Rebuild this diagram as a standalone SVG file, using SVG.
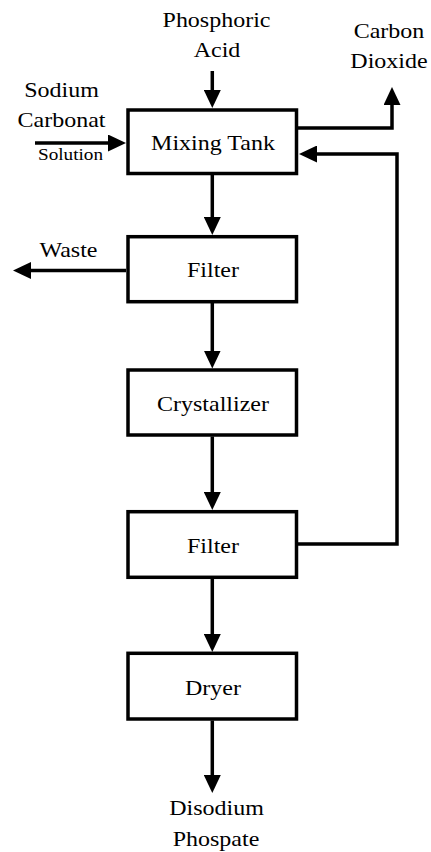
<svg xmlns="http://www.w3.org/2000/svg" width="431" height="852" viewBox="0 0 431 852">
  <style>
    .box { fill: #fff; stroke: #000; stroke-width: 3.5; }
    .flow { fill: none; stroke: #000; stroke-width: 3.5; stroke-linejoin: miter; marker-end: url(#ah); }
  </style>
  <defs>
    <marker id="ah" viewBox="0 0 18 17" markerWidth="18" markerHeight="17" refX="0.5" refY="8.5" orient="auto" markerUnits="userSpaceOnUse">
      <polygon points="0,0 18,8.5 0,17" fill="#000"/>
    </marker>
  </defs>
  <rect width="431" height="852" fill="#fff"/>

  <g id="connectors">
    <path class="flow" d="M212.3 71 V90.5"/>
    <path class="flow" d="M212.3 175 V217.5"/>
    <path class="flow" d="M212.3 303 V351"/>
    <path class="flow" d="M212.3 436.5 V492.5"/>
    <path class="flow" d="M212.3 579 V634.5"/>
    <path class="flow" d="M212.3 720.5 V775.5"/>
    <path class="flow" d="M35 143 H108.5"/>
    <path class="flow" d="M298 128 H392 V104.5"/>
    <path class="flow" d="M298 544 H397 V154 H316.5"/>
    <path class="flow" d="M126 270.5 H30.5"/>
  </g>

  <g font-family="Liberation Serif" font-size="20" fill="#000" text-anchor="middle">
    <g id="mixing-tank">
      <rect class="box" x="128" y="110" width="168.5" height="63.5"/>
      <text transform="translate(213 150) scale(1.2 1)">Mixing Tank</text>
    </g>
    <g id="filter-1">
      <rect class="box" x="128" y="236.7" width="168.5" height="65"/>
      <text transform="translate(213 277) scale(1.2 1)">Filter</text>
    </g>
    <g id="crystallizer">
      <rect class="box" x="128" y="370" width="168.5" height="65"/>
      <text transform="translate(213 411) scale(1.2 1)">Crystallizer</text>
    </g>
    <g id="filter-2">
      <rect class="box" x="128" y="511.7" width="168.5" height="65.6"/>
      <text transform="translate(213 553) scale(1.2 1)">Filter</text>
    </g>
    <g id="dryer">
      <rect class="box" x="128" y="653.3" width="168.5" height="65.7"/>
      <text transform="translate(213 695) scale(1.2 1)">Dryer</text>
    </g>

    <g id="phosphoric-acid">
      <text transform="translate(216.5 27) scale(1.2 1)">Phosphoric</text>
      <text transform="translate(217 57) scale(1.2 1)">Acid</text>
    </g>
    <g id="carbon-dioxide">
      <text transform="translate(389 38) scale(1.2 1)">Carbon</text>
      <text transform="translate(389 68) scale(1.2 1)">Dioxide</text>
    </g>
    <g id="sodium-carbonate">
      <text transform="translate(61.5 97) scale(1.2 1)">Sodium</text>
      <text transform="translate(61.5 127) scale(1.2 1)">Carbonat</text>
      <text transform="translate(70.5 160) scale(1.2 1)" font-size="16">Solution</text>
    </g>
    <g id="waste">
      <text transform="translate(68.5 257) scale(1.2 1)">Waste</text>
    </g>
    <g id="disodium-phosphate">
      <text transform="translate(216.5 815) scale(1.2 1)">Disodium</text>
      <text transform="translate(216 846) scale(1.2 1)">Phospate</text>
    </g>
  </g>
</svg>
